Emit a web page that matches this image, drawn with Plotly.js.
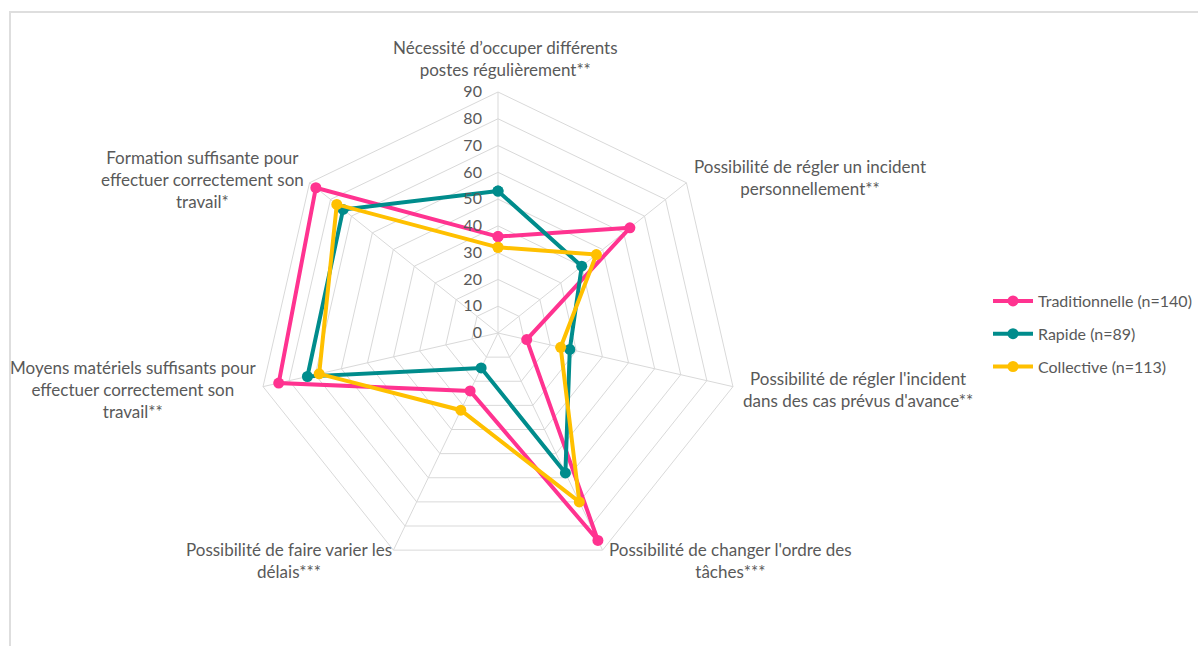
<!DOCTYPE html>
<html>
<head>
<meta charset="utf-8">
<script src="https://cdn.plot.ly/plotly-3.0.1.min.js"></script>
<style>
  html, body { margin: 0; padding: 0; background: #ffffff; }
  #frame { position: absolute; left: 9px; top: 11px; width: 1400px; height: 800px;
           border-left: 2px solid #dedede; border-top: 2px solid #dedede; pointer-events: none; }
  #chart { position: absolute; left: 0; top: 0; width: 1198px; height: 646px; }
</style>
</head>
<body>
<div id="chart"></div>
<div id="frame"></div>
<script>
// ---- data ----
const categories = [
  "Nécessité d’occuper différents<br>postes régulièrement**",
  "Possibilité de régler un incident<br>personnellement**",
  "Possibilité de régler l'incident<br>dans des cas prévus d'avance**",
  "Possibilité de changer l'ordre des<br>tâches***",
  "Possibilité de faire varier les<br>délais***",
  "Moyens matériels suffisants pour<br>effectuer correctement son<br>travail**",
  "Formation suffisante pour<br>effectuer correctement son<br>travail*"
];
const seriesNames = ["Traditionnelle (n=140)", "Rapide (n=89)", "Collective (n=113)"];
const traditionnelle = [36, 63, 11, 86, 24, 84, 87];
const rapide = [53, 40, 27.5, 58, 14.5, 73, 74];
const collective = [32, 47, 24, 70, 32, 68.5, 77];
const radialTicks = [0, 10, 20, 30, 40, 50, 60, 70, 80, 90];

// ---- style ----
const colors = ["#FF3390", "#008C8C", "#FFC000"];
const W = 1198, H = 646;
const dom = { x: [257 / W, 739 / W], y: [(H - 574) / H, (H - 92) / H] };
const textColor = "#595959";
const fontFam = "Lato, 'Liberation Sans', sans-serif";

const ids = categories.map((c, i) => "c" + i);
function closeLoop(a) { return a.concat([a[0]]); }
const allSeries = [traditionnelle, rapide, collective];
const traces = allSeries.map((vals, i) => ({
  type: "scatterpolar",
  r: closeLoop(vals),
  theta: closeLoop(ids),
  name: seriesNames[i],
  legendgroup: "g" + i,
  mode: "lines+markers",
  line: { color: colors[i], width: 4 },
  marker: { color: colors[i], size: 11 },
  cliponaxis: false
}));

// category label annotations placed from the polar geometry
const cx = (dom.x[0] + dom.x[1]) / 2 * W;
const cy = H - (dom.y[0] + dom.y[1]) / 2 * H;
const R = (dom.x[1] - dom.x[0]) * W / 2;
const labelPlace = [
  { xa: "center", ya: "bottom", dx: 7, dy: -10 },
  { xa: "left", ya: "middle", dx: 6, dy: -5 },
  { xa: "left", ya: "middle", dx: 8, dy: 3 },
  { xa: "left", ya: "top", dx: 4, dy: -13 },
  { xa: "right", ya: "top", dx: 1, dy: -13 },
  { xa: "right", ya: "middle", dx: -5, dy: 3 },
  { xa: "right", ya: "middle", dx: -4, dy: -3 }
];
const annotations = categories.map((c, k) => {
  const th = k * 2 * Math.PI / categories.length;
  const vx = cx + R * Math.sin(th) + labelPlace[k].dx;
  const vy = cy - R * Math.cos(th) + labelPlace[k].dy;
  return {
    text: c, xref: "paper", yref: "paper",
    x: vx / W, y: 1 - vy / H,
    xanchor: labelPlace[k].xa, yanchor: labelPlace[k].ya,
    align: "center", showarrow: false,
    font: { family: fontFam, size: 17, color: textColor }
  };
});

const layout = {
  width: W, height: H,
  margin: { l: 0, r: 0, t: 0, b: 0 },
  paper_bgcolor: "#ffffff",
  font: { family: fontFam, color: textColor },
  showlegend: true,
  legend: {
    x: 988 / W, xanchor: "left", y: 1 - 284 / H, yanchor: "top",
    font: { family: fontFam, size: 16, color: textColor },
    tracegroupgap: 9, itemwidth: 40, bgcolor: "rgba(0,0,0,0)"
  },
  polar: {
    domain: dom,
    bgcolor: "#ffffff",
    gridshape: "linear",
    radialaxis: {
      range: [0, 90], tickvals: radialTicks, ticktext: radialTicks.map(String),
      angle: 90, tickangle: 90, side: "counterclockwise",
      showline: false, ticks: "outside", ticklen: 10, tickcolor: "rgba(0,0,0,0)",
      showgrid: true, gridcolor: "#d9d9d9", gridwidth: 1,
      tickfont: { family: fontFam, size: 16, color: textColor }
    },
    angularaxis: {
      type: "category", categoryarray: ids,
      direction: "clockwise", rotation: 90,
      showticklabels: false, ticks: "",
      showline: true, linecolor: "#d9d9d9", linewidth: 1,
      showgrid: true, gridcolor: "#d9d9d9", gridwidth: 1
    }
  },
  annotations: annotations
};

Plotly.newPlot("chart", traces, layout, { displayModeBar: false, staticPlot: true });
</script>
</body>
</html>
